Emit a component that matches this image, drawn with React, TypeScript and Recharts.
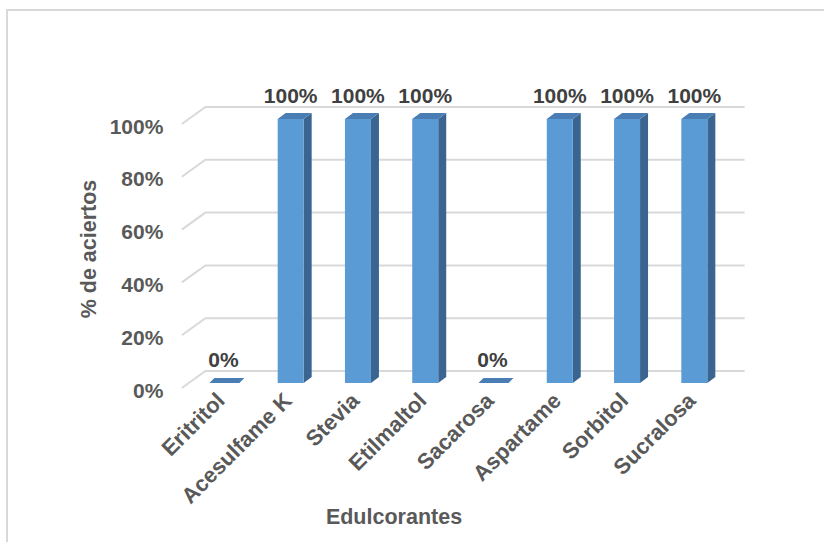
import React from 'react';
import { BarChart, Bar, XAxis, YAxis, CartesianGrid, LabelList } from 'recharts';

const CATEGORIES = ['Eritritol', 'Acesulfame K', 'Stevia', 'Etilmaltol', 'Sacarosa', 'Aspartame', 'Sorbitol', 'Sucralosa'];
const ACIERTOS = [0, 100, 100, 100, 0, 100, 100, 100];
const Y_TICKS = [0, 20, 40, 60, 80, 100];

const data = CATEGORIES.map((name, i) => ({ name, aciertos: ACIERTOS[i] }));

const W = 824;
const H = 542;
const Y_AXIS_W = 60;
const X_AXIS_H = 30;
const PLOT_LEFT = 189.4;
const PLOT_BOTTOM = 383;
const MARGIN = { top: 119, right: 96.4, bottom: H - PLOT_BOTTOM - X_AXIS_H, left: PLOT_LEFT - Y_AXIS_W };
const FONT = '"Liberation Sans", Arial, Helvetica, sans-serif';
const TEXT_COLOR = '#595959';
const FONT_SIZE = 21;

// depth of the 3D boxes
const DX = 8;
const DY = 6;

const FRONT = '#5B9BD5';
const TOP = '#4A7DB4';
const SIDE = '#3A6591';

function Box3D(props: any) {
  const { x, y, width, height } = props;
  if (x == null || y == null) return null;
  const w = width;
  const bottom = y + height;
  if (!height || height < 0.5) {
    const sx = x - 1;
    const sw = w + 4;
    return (
      <polygon
        points={`${sx},${bottom} ${sx + sw},${bottom} ${sx + sw + 5},${bottom - 5} ${sx + 5},${bottom - 5}`}
        fill={TOP}
      />
    );
  }
  return (
    <g>
      <polygon
        points={`${x + w},${y} ${x + w + DX},${y - DY} ${x + w + DX},${bottom - DY} ${x + w},${bottom}`}
        fill={SIDE}
      />
      <polygon points={`${x},${y} ${x + w},${y} ${x + w + DX},${y - DY} ${x + DX},${y - DY}`} fill={TOP} />
      <rect x={x} y={y} width={w} height={height} fill={FRONT} />
    </g>
  );
}

// back-wall gridline plus the slanted side-wall segment
function GridLine(props: any) {
  const { x1, x2, y1 } = props;
  const backY = y1 - 12;
  const frontY = y1 + 5;
  return (
    <path
      key={props.key}
      d={`M${x1 - 7.6},${frontY} L${x1 + 16},${backY} L${x2 + 17},${backY}`}
      fill="none"
      stroke="#D9D9D9"
      strokeWidth={2}
    />
  );
}

function YTick(props: any) {
  const { y, payload } = props;
  return (
    <text
      x={PLOT_LEFT - 26}
      y={y + 9}
      textAnchor="end"
      dominantBaseline="middle"
      fontFamily={FONT}
      fontWeight="bold"
      fontSize={FONT_SIZE}
      fill={TEXT_COLOR}
    >
      {`${payload.value}%`}
    </text>
  );
}

function XTick(props: any) {
  const { x, payload } = props;
  const ax = x + 3;
  const ay = PLOT_BOTTOM + 19;
  return (
    <text
      x={ax}
      y={ay}
      textAnchor="end"
      transform={`rotate(-45 ${ax} ${ay})`}
      fontFamily={FONT}
      fontWeight="bold"
      fontSize={22}
      fill={TEXT_COLOR}
    >
      {payload.value}
    </text>
  );
}

function ValueLabel(props: any) {
  const { x, y, width, value } = props;
  return (
    <text
      x={x + width / 2}
      y={y - 16}
      textAnchor="middle"
      fontFamily={FONT}
      fontWeight="bold"
      fontSize={FONT_SIZE}
      fill="#404040"
    >
      {`${value}%`}
    </text>
  );
}

export default function App() {
  return (
    <div style={{ position: 'absolute', left: 0, top: 0, width: W, height: H, overflow: 'hidden', background: '#fff' }}>
      <div
        style={{
          position: 'absolute',
          left: 6,
          top: 9,
          width: 900,
          height: 700,
          border: '2px solid #D9D9D9',
          boxSizing: 'border-box',
        }}
      />
      <div style={{ position: 'absolute', left: 0, top: 0 }}>
        <BarChart width={W} height={H} data={data} margin={MARGIN}>
          <CartesianGrid vertical={false} horizontal={GridLine} stroke="#D9D9D9" />
          <XAxis
            dataKey="name"
            height={X_AXIS_H}
            axisLine={false}
            tickLine={false}
            interval={0}
            tick={XTick}
          />
          <YAxis
            width={Y_AXIS_W}
            domain={[0, 100]}
            ticks={Y_TICKS}
            interval={0}
            axisLine={false}
            tickLine={false}
            tick={YTick}
          />
          <Bar dataKey="aciertos" barSize={26} shape={Box3D} isAnimationActive={false}>
            <LabelList dataKey="aciertos" content={ValueLabel} />
          </Bar>
        </BarChart>
      </div>
      <svg
        width={W}
        height={H}
        style={{ position: 'absolute', left: 0, top: 0, pointerEvents: 'none' }}
      >
        <text
          x={90}
          y={249}
          textAnchor="middle"
          dominantBaseline="middle"
          transform="rotate(-90 90 249)"
          fontFamily={FONT}
          fontWeight="bold"
          fontSize={21.5}
          fill={TEXT_COLOR}
        >
          % de aciertos
        </text>
        <text
          x={394}
          y={518}
          textAnchor="middle"
          dominantBaseline="middle"
          fontFamily={FONT}
          fontWeight="bold"
          fontSize={21.5}
          fill={TEXT_COLOR}
        >
          Edulcorantes
        </text>
      </svg>
    </div>
  );
}
